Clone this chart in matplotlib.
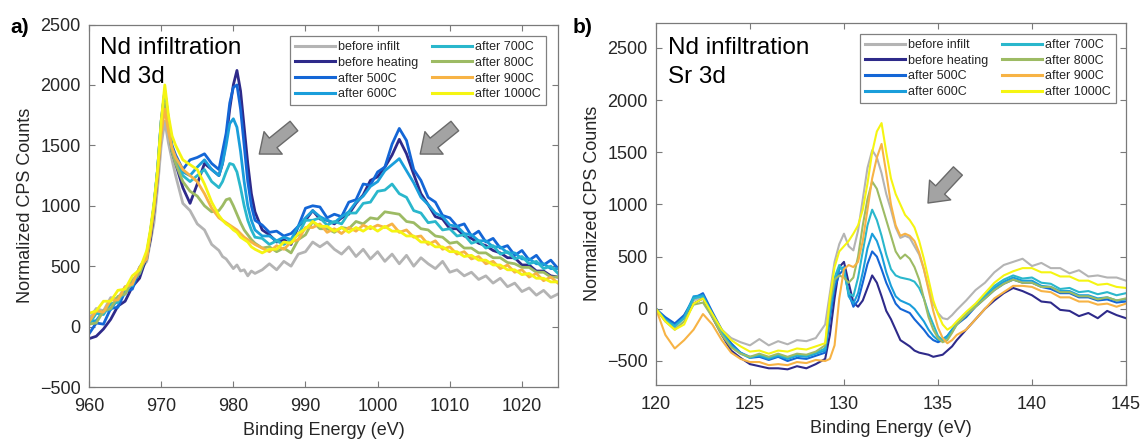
import matplotlib
matplotlib.use("Agg")
import matplotlib.pyplot as plt

plt.rcParams['font.family'] = ['Liberation Sans', 'DejaVu Sans']

labels = ['before infilt', 'before heating', 'after 500C', 'after 600C',
          'after 700C', 'after 800C', 'after 900C', 'after 1000C']
colors = ['#b4b4b4', '#2e2a8a', '#1466d6', '#1a9edb',
          '#2ab7cc', '#9dbb64', '#f7b345', '#f5f512']

# ---- panel a: Nd 3d, binding energy (eV) ----
energy_nd = [960, 961, 962, 963, 964, 965, 966, 967, 968,
             968.5, 969, 969.5, 970, 970.5, 971, 971.5, 972,
             973, 974, 975, 976, 977, 978,
             978.5, 979, 979.5, 980, 980.5, 981, 981.5, 982, 982.5, 983,
             984, 985, 986, 987, 988, 989, 990, 991, 992, 993,
             994, 995, 996, 997, 998, 999, 1000, 1001, 1002, 1003,
             1004, 1005, 1006, 1007, 1008, 1009, 1010, 1011, 1012, 1013,
             1014, 1015, 1016, 1017, 1018, 1019, 1020, 1021, 1022, 1023,
             1024, 1025]

nd_before_infilt = [60, 150, 130, 240, 230, 330, 340, 460, 540,
                    700, 860, 1150, 1500, 1700, 1520, 1380, 1250,
                    1020, 960, 850, 800, 680, 630,
                    580, 560, 520, 480, 510, 460, 470, 420, 460, 440,
                    470, 520, 470, 540, 500, 600, 620, 700, 660, 700,
                    640, 600, 660, 580, 640, 560, 620, 540, 600, 520,
                    590, 500, 570, 520, 480, 540, 450, 470, 420, 450,
                    390, 420, 360, 400, 330, 360, 290, 320, 260, 300,
                    240, 270]
nd_before_heating = [-100, -80, -20, 60, 170, 210, 330, 400, 580,
                     720, 950, 1250, 1650, 1900, 1700, 1450, 1350,
                     1150, 1020, 1180, 1350, 1300, 1250,
                     1350, 1550, 1800, 2000, 2120, 1950, 1650, 1350, 1100, 950,
                     800, 760, 700, 720, 680, 830, 880, 960, 890, 880,
                     850, 900, 930, 1020, 1090, 1210, 1240, 1320, 1420, 1550,
                     1430, 1260, 1100, 1010, 910, 890, 810, 810, 750, 730,
                     690, 670, 630, 610, 570, 570, 510, 510, 460, 460,
                     420, 410]
nd_500 = [-60, 30, 20, 150, 160, 290, 310, 470, 560,
          760, 1000, 1300, 1700, 1950, 1720, 1500, 1420,
          1300, 1380, 1400, 1430, 1350, 1300,
          1450, 1600, 1850, 1980, 2000, 1800, 1500, 1200, 1000, 880,
          840, 780, 790, 750, 770, 830, 980, 1000, 990, 900,
          930, 910, 1030, 1050, 1180, 1170, 1280, 1320, 1510, 1640,
          1540, 1300, 1210, 1070, 1030, 920, 900, 830, 850, 750,
          790, 700, 730, 650, 670, 590, 630, 550, 590, 510,
          550, 480]
nd_600 = [40, 50, 130, 140, 230, 270, 380, 440, 610,
          780, 1000, 1300, 1700, 1950, 1700, 1480, 1380,
          1280, 1250, 1320, 1380, 1300, 1250,
          1350, 1500, 1680, 1720, 1650, 1450, 1200, 1000, 880, 800,
          750, 750, 710, 740, 720, 830, 900, 960, 910, 880,
          860, 910, 950, 1030, 1080, 1160, 1200, 1290, 1340, 1390,
          1290, 1190, 1070, 1010, 940, 910, 840, 830, 770, 760,
          710, 710, 660, 660, 610, 610, 560, 560, 520, 520,
          480, 480]
nd_700 = [20, 110, 100, 190, 200, 320, 340, 490, 580,
          780, 1000, 1300, 1680, 1900, 1680, 1460, 1360,
          1250, 1200, 1250, 1300, 1200, 1150,
          1200, 1280, 1350, 1340, 1280, 1150, 1000, 880, 800, 740,
          730, 680, 710, 680, 720, 760, 880, 880, 900, 840,
          870, 850, 940, 940, 1020, 1030, 1120, 1130, 1180, 1100,
          1070, 960, 940, 860, 870, 800, 810, 750, 760, 690,
          710, 650, 670, 600, 620, 560, 580, 520, 540, 480,
          500, 440]
nd_800 = [20, 30, 130, 150, 250, 270, 380, 440, 590,
          760, 980, 1280, 1650, 1850, 1650, 1450, 1350,
          1200, 1120, 1080, 1000, 950, 960,
          1000, 1050, 1060, 1000, 930, 860, 800, 760, 720, 690,
          650, 660, 620, 650, 610, 720, 760, 870, 810, 810,
          780, 820, 810, 870, 850, 900, 890, 950, 940, 930,
          870, 860, 810, 800, 750, 740, 690, 700, 650, 650,
          610, 610, 570, 570, 530, 520, 490, 490, 450, 450,
          410, 410]
nd_900 = [40, 130, 120, 220, 220, 330, 350, 490, 560,
          760, 970, 1250, 1600, 1800, 1620, 1480, 1400,
          1300, 1250, 1200, 1100, 980, 900,
          880, 860, 840, 820, 800, 770, 740, 720, 700, 680,
          650, 620, 670, 640, 700, 720, 820, 820, 850, 780,
          810, 770, 820, 790, 840, 810, 840, 820, 850, 780,
          800, 740, 750, 680, 710, 640, 660, 600, 620, 560,
          580, 520, 540, 480, 510, 450, 470, 410, 440, 380,
          410, 360]
nd_1000 = [110, 130, 210, 210, 300, 310, 420, 470, 630,
           800, 1020, 1300, 1700, 2000, 1750, 1580, 1500,
           1380, 1340, 1300, 1180, 1030, 920,
           880, 850, 830, 800, 780, 740, 720, 700, 660, 640,
           610, 640, 640, 700, 690, 770, 810, 870, 830, 830,
           790, 820, 780, 820, 790, 830, 790, 830, 790, 790,
           750, 750, 700, 700, 660, 660, 620, 620, 580, 590,
           550, 550, 510, 510, 470, 470, 430, 440, 400, 400,
           370, 370]

# ---- panel b: Sr 3d, binding energy (eV) ----
energy_sr = [120, 120.5, 121, 121.5, 122, 122.5, 123, 123.5, 124, 124.5,
             125, 125.5, 126, 126.5, 127, 127.5, 128, 128.5,
             129, 129.25, 129.5, 129.75, 130, 130.25, 130.5, 130.75,
             131, 131.25, 131.5, 131.75, 132, 132.25, 132.5, 132.75,
             133, 133.25, 133.5, 133.75, 134, 134.25, 134.5, 134.75,
             135, 135.25, 135.5, 135.75, 136,
             136.5, 137, 137.5, 138, 138.5, 139, 139.5, 140, 140.5,
             141, 141.5, 142, 142.5, 143, 143.5, 144, 144.5, 145]

sr_before_infilt = [0, -120, -180, -60, 80, 120, -60, -200, -280, -320,
                    -350, -290, -350, -310, -340, -300, -310, -280,
                    -150, 150, 450, 620, 720, 600, 560, 750,
                    1050, 1350, 1520, 1450, 1300, 1100, 950, 780,
                    680, 700, 680, 600, 520, 380, 200, 50,
                    -40, -90, -100, -60, -10,
                    80, 180, 250, 350, 420, 450, 480, 410, 440,
                    390, 390, 340, 370, 310, 320, 300, 300, 270]
sr_before_heating = [0, -100, -150, -80, 50, 100, -80, -250, -400, -470,
                     -530, -550, -570, -570, -580, -550, -570, -530,
                     -480, -250, 100, 400, 450, 250, 60, 20,
                     80, 200, 320, 250, 120, -20, -100, -200,
                     -300, -330, -360, -400, -420, -430, -440, -460,
                     -450, -440, -400, -360, -300,
                     -200, -100, 0, 80, 150, 200, 170, 130, 70,
                     60, -10, -20, -70, -40, -90, -20, -60, -90]
sr_500 = [0, -80, -140, -60, 100, 150, -30, -200, -330, -420,
          -470, -460, -490, -460, -500, -470, -480, -450,
          -420, -100, 200, 330, 380, 150, 20, 80,
          250, 430, 550, 500, 380, 250, 150, 50,
          0, -20, -40, -100, -150, -200, -260, -300,
          -320, -300, -260, -200, -150,
          -80, 20, 100, 180, 240, 280, 250, 250, 210,
          190, 150, 150, 110, 110, 80, 90, 60, 70]
sr_600 = [0, -100, -160, -80, 120, 130, -50, -220, -350, -420,
          -460, -450, -480, -450, -480, -450, -460, -430,
          -400, -50, 250, 380, 400, 120, 50, 150,
          350, 580, 720, 650, 520, 350, 220, 120,
          80, 60, 40, 0, -60, -120, -200, -260,
          -300, -290, -260, -200, -140,
          -60, 30, 120, 200, 260, 300, 270, 270, 220,
          210, 170, 170, 130, 130, 100, 110, 80, 90]
sr_700 = [0, -110, -170, -90, 100, 120, -60, -230, -360, -430,
          -470, -440, -470, -440, -470, -440, -450, -420,
          -380, 0, 300, 420, 350, 150, 120, 300,
          550, 800, 950, 850, 700, 520, 380, 320,
          300, 290, 280, 260, 200, 100, -40, -150,
          -260, -300, -280, -220, -150,
          -50, 40, 130, 220, 280, 320, 290, 300, 250,
          240, 190, 200, 160, 170, 140, 160, 130, 150]
sr_800 = [0, -120, -200, -120, 40, 60, -80, -250, -370, -430,
          -460, -430, -460, -430, -460, -430, -440, -410,
          -350, 50, 280, 320, 300, 250, 300, 500,
          800, 1050, 1220, 1150, 1000, 850, 700, 550,
          480, 520, 480, 400, 280, 100, -80, -200,
          -280, -320, -300, -230, -150,
          -60, 20, 100, 180, 240, 280, 250, 250, 210,
          210, 160, 160, 120, 120, 90, 110, 80, 100]
sr_900 = [0, -250, -380, -300, -200, -50, -150, -300, -420, -480,
          -510, -510, -540, -530, -540, -510, -520, -490,
          -500, -480, -350, 100, 380, 420, 400, 450,
          650, 950, 1250, 1450, 1580, 1300, 1000, 800,
          700, 720, 700, 650, 540, 380, 180, -20,
          -180, -280, -330, -300, -250,
          -200, -100, 0, 100, 160, 220, 220, 210, 170,
          160, 110, 110, 70, 70, 40, 50, 20, 50]
sr_1000 = [0, -120, -200, -150, 50, 100, -50, -200, -300, -360,
           -410, -400, -430, -400, -410, -380, -390, -360,
           -330, 100, 400, 550, 600, 650, 720, 800,
           950, 1200, 1500, 1700, 1780, 1500, 1250, 1100,
           1000, 900, 850, 780, 650, 480, 280, 80,
           -50, -150, -200, -170, -120,
           -30, 50, 150, 250, 320, 360, 390, 390, 350,
           350, 310, 310, 270, 270, 230, 240, 210, 200]

nd_series = [nd_before_infilt, nd_before_heating, nd_500, nd_600,
             nd_700, nd_800, nd_900, nd_1000]
sr_series = [sr_before_infilt, sr_before_heating, sr_500, sr_600,
             sr_700, sr_800, sr_900, sr_1000]

text_col = '#262626'
spine_col = '#7a7a7a'

fig = plt.figure(figsize=(11.43, 4.41), dpi=100)
ax_a = fig.add_axes([0.0779, 0.1224, 0.4103, 0.822])
ax_b = fig.add_axes([0.5739, 0.127, 0.4112, 0.8215])


def style_axes(ax, xlim, ylim, xticks):
    ax.set_xlim(*xlim)
    ax.set_ylim(*ylim)
    ax.set_xticks(xticks)
    ax.set_yticks([-500, 0, 500, 1000, 1500, 2000, 2500])
    ax.tick_params(direction='in', top=True, right=True, length=4,
                   width=0.8, color=spine_col, labelsize=13,
                   labelcolor=text_col)
    ax.tick_params(axis='x', pad=8)
    ax.tick_params(axis='y', pad=6)
    for s in ax.spines.values():
        s.set_color(spine_col)
        s.set_linewidth(0.9)
    ax.set_xlabel('Binding Energy (eV)', fontsize=13, color=text_col, labelpad=5)
    ax.set_ylabel('Normalized CPS Counts', fontsize=13, color=text_col, labelpad=4)


def add_legend(ax, anchor):
    leg = ax.legend(ncol=2, loc='upper right', bbox_to_anchor=anchor,
                    fontsize=9, handlelength=3.2, handletextpad=0.25,
                    columnspacing=1.1, labelspacing=0.3, borderpad=0.4,
                    borderaxespad=0, fancybox=False, framealpha=1)
    leg.get_frame().set_edgecolor('#808080')
    leg.get_frame().set_linewidth(0.9)
    for t in leg.get_texts():
        t.set_color(text_col)
    for h in leg.get_lines():
        h.set_linewidth(2.2)


def add_arrow(ax, tip, tail):
    ax.annotate('', xy=tip, xytext=tail,
                arrowprops=dict(arrowstyle='simple,head_length=0.8,head_width=1.3,tail_width=0.55',
                                mutation_scale=16, fc='#a3a3a3', ec='#6a6a6a',
                                lw=1, shrinkA=0, shrinkB=0))


# panel a
for vals, lab, col in zip(nd_series, labels, colors):
    ax_a.plot(energy_nd, vals, color=col, lw=2.0, label=lab)
style_axes(ax_a, (960, 1025), (-500, 2500), [960, 970, 980, 990, 1000, 1010, 1020])
add_legend(ax_a, (0.974, 0.968))
ax_a.text(0.0235, 0.9186, 'Nd infiltration', transform=ax_a.transAxes,
          fontsize=17.5, va='baseline', ha='left', color='black')
ax_a.text(0.0235, 0.8386, 'Nd 3d', transform=ax_a.transAxes,
          fontsize=17.5, va='baseline', ha='left', color='black')
add_arrow(ax_a, (983.6, 1428), (988.4, 1660))
add_arrow(ax_a, (1005.9, 1428), (1010.7, 1660))

# panel b
for vals, lab, col in zip(sr_series, labels, colors):
    ax_b.plot(energy_sr, vals, color=col, lw=1.5, label=lab)
style_axes(ax_b, (120, 145), (-730, 2742), [120, 125, 130, 135, 140, 145])
add_legend(ax_b, (0.979, 0.969))
ax_b.text(0.0255, 0.9128, 'Nd infiltration', transform=ax_b.transAxes,
          fontsize=17.5, va='baseline', ha='left', color='black')
ax_b.text(0.0255, 0.8327, 'Sr 3d', transform=ax_b.transAxes,
          fontsize=17.5, va='baseline', ha='left', color='black')
add_arrow(ax_b, (134.47, 1014), (136.06, 1321))

fig.text(10 / 1143, 1 - 33 / 441, 'a)', fontsize=15, fontweight='bold',
         va='baseline', ha='left')
fig.text(573 / 1143, 1 - 33 / 441, 'b)', fontsize=15, fontweight='bold',
         va='baseline', ha='left')

fig.savefig('out.png', dpi=100)
